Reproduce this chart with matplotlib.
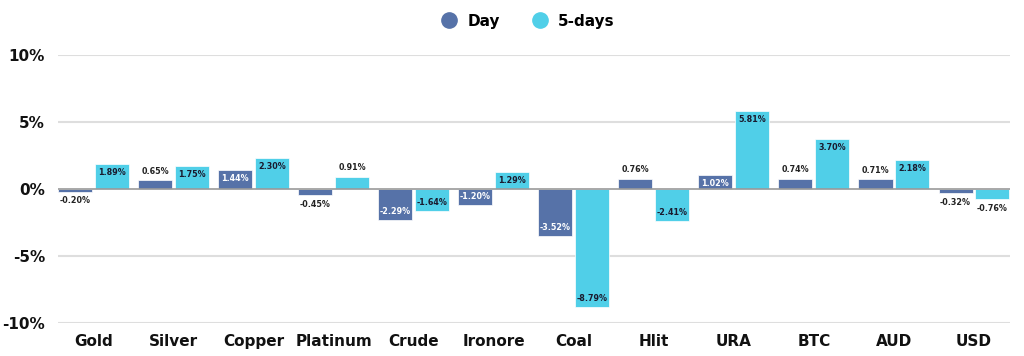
import matplotlib.pyplot as plt
import numpy as np
from matplotlib.lines import Line2D

categories = ["Gold", "Silver", "Copper", "Platinum", "Crude", "Ironore",
              "Coal", "Hlit", "URA", "BTC", "AUD", "USD"]
day = [-0.20, 0.65, 1.44, -0.45, -2.29, -1.20, -3.52, 0.76, 1.02, 0.74, 0.71, -0.32]
five_days = [1.89, 1.75, 2.30, 0.91, -1.64, 1.29, -8.79, -2.41, 5.81, 3.70, 2.18, -0.76]
yticks = [-10, -5, 0, 5, 10]

c_day = "#5672a8"
c_5d = "#50cfe8"

plt.rcParams['font.family'] = ['DejaVu Sans']

fig = plt.figure(figsize=(10.24, 3.56), dpi=100)
ax = fig.add_axes([0.0522, 0.0927, 0.938, 0.7528])

x = np.arange(len(categories))
w = 0.425
off = 0.23

def draw(vals, pos, color, inside_color):
    ax.bar(pos, vals, w, color=color, edgecolor="white", linewidth=0.5, zorder=3)
    for xi, v in zip(pos, vals):
        s = "%.2f%%" % v
        kw = dict(ha="center", fontsize=5.8, fontweight="bold", zorder=5)
        if abs(v) >= 1:
            if v > 0:
                ax.text(xi, v - 0.3, s, va="top", color=inside_color, **kw)
            else:
                ax.text(xi, v + 0.3, s, va="bottom", color=inside_color, **kw)
        else:
            if v > 0:
                ax.text(xi, v + 0.35, s, va="bottom", color="#222222", **kw)
            else:
                ax.text(xi, v - 0.35, s, va="top", color="#222222", **kw)

draw(day, x - off, c_day, "white")
draw(five_days, x + off, c_5d, "#1a1a2e")

ax.set_xlim(-0.5, len(categories) - 0.5)
ax.set_ylim(-10, 10)
ax.set_yticks(yticks)
ax.set_yticklabels(["%d%%" % t for t in yticks])
ax.set_xticks(x)
ax.set_xticklabels(categories)
for t in ax.get_xticklabels() + ax.get_yticklabels():
    t.set_fontweight("bold")
    t.set_fontsize(11)
    t.set_color("#111111")
ax.tick_params(length=0)
ax.tick_params(axis="x", pad=8)
ax.tick_params(axis="y", pad=6)
for s in ax.spines.values():
    s.set_visible(False)
for t in yticks:
    if t == 0:
        ax.hlines(0, -0.44, len(categories) - 0.55, color="#9a9a9a", lw=1.2, zorder=4)
    else:
        ax.hlines(t, -0.44, len(categories) - 0.55, color="#dedede", lw=1.5, zorder=1)

handles = [Line2D([], [], marker="o", ls="", markersize=11, color=c_day),
           Line2D([], [], marker="o", ls="", markersize=11, color=c_5d)]
fig.legend(handles, ["Day", "5-days"], loc="upper center", bbox_to_anchor=(0.512, 1.0),
           ncol=2, frameon=False, prop={"weight": "bold", "size": 11},
           handletextpad=0.2, columnspacing=1.6)

fig.savefig("out.png", dpi=100)
